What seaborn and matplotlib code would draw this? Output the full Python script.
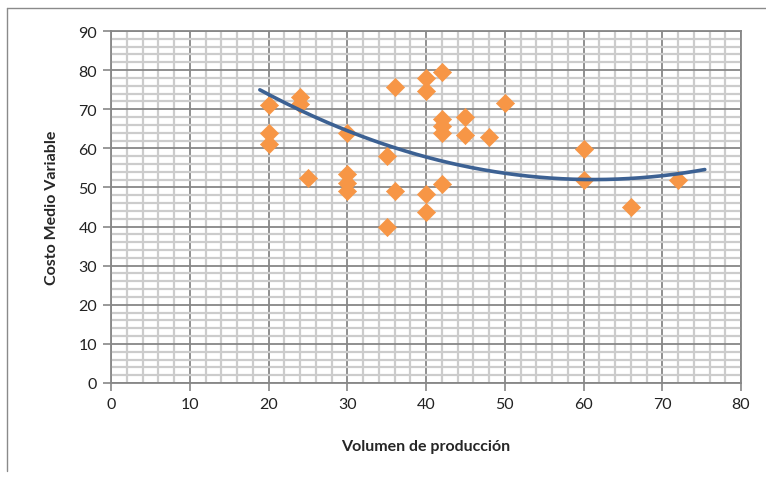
import numpy as np
import pandas as pd
import matplotlib
matplotlib.use("Agg")
import matplotlib.pyplot as plt
from matplotlib.ticker import MultipleLocator
from matplotlib.lines import Line2D
import seaborn as sns

# Data
volumen = [20, 20, 20, 24, 24, 25, 30, 30, 30, 30, 35, 35, 36, 36,
           40, 40, 40, 40, 42, 42, 42, 42, 42, 45, 45, 48, 50, 60, 60, 66, 72]
costo = [71, 64, 61, 73, 71.3, 52.5, 64, 53.5, 51.2, 49.2, 58, 40, 75.6, 49.2,
         78, 74.6, 48.2, 43.8, 79.5, 67.4, 65.7, 63.9, 51, 68, 63.4, 63, 71.5, 59.8, 51.8, 45, 51.8]
# Points read along the (polynomial) trend line in the reference
trend_x = [18.9, 24.0, 29.8, 36.7, 40.0, 50.2, 57.0, 60.2, 70.6, 75.4]
trend_y = [74.8, 70.5, 63.9, 59.8, 57.9, 53.4, 52.3, 52.2, 53.4, 54.3]
x_ticks = [0, 10, 20, 30, 40, 50, 60, 70, 80]
y_ticks = [0, 10, 20, 30, 40, 50, 60, 70, 80, 90]

df = pd.DataFrame({"Volumen de producción": volumen, "Costo Medio Variable": costo})

sns.set_theme(style="white")
plt.rcParams['font.family'] = ['Lato', 'DejaVu Sans']

fig = plt.figure(figsize=(7.66, 4.85), dpi=100)
ax = fig.add_axes([111/766, 1-384/485, (741-111)/766, (384-32)/485])

# Smooth order-2 curve through the trend points
coef = np.polyfit(trend_x, trend_y, 2)
xs = np.linspace(min(trend_x), max(trend_x), 200)
trend = pd.DataFrame({"x": xs, "y": np.polyval(coef, xs)})

sns.scatterplot(data=df, x="Volumen de producción", y="Costo Medio Variable", ax=ax,
                marker="D", s=85, color="#F79646", edgecolor="#F79646", linewidth=0.5, zorder=3)
sns.lineplot(data=trend, x="x", y="y", ax=ax, color="#3C6193", lw=2.6, zorder=4)

ax.set_xlim(0, 80)
ax.set_ylim(0, 90)
ax.set_xticks(x_ticks)
ax.set_yticks(y_ticks)
ax.xaxis.set_minor_locator(MultipleLocator(2))
ax.yaxis.set_minor_locator(MultipleLocator(2))
ax.grid(which="minor", color="#cccccc", lw=1.6, zorder=0)
ax.grid(which="major", color="#878787", lw=1.3, zorder=1)
ax.set_axisbelow(True)
ax.tick_params(which="major", direction="out", length=6, width=1.2, color="#878787",
               labelsize=11.5, labelcolor="#222222", pad=4, left=True, bottom=True)
ax.tick_params(which="minor", length=0)
for s in ax.spines.values():
    s.set_color("#878787")
    s.set_linewidth(1.3)

ax.set_xlabel("Volumen de producción", fontsize=11.5, fontweight="bold", labelpad=20)
ax.set_ylabel("Costo Medio Variable", fontsize=11.5, fontweight="bold", labelpad=14)

# Chart area frame (partially visible in reference)
fig.add_artist(Line2D([7/766, 7/766], [1-472/485, 1-9/485], color="#8a8a8a", lw=1.0))
fig.add_artist(Line2D([7/766, 1.0], [1-9/485, 1-9/485], color="#8a8a8a", lw=1.0))

fig.savefig("out.png", dpi=100)
